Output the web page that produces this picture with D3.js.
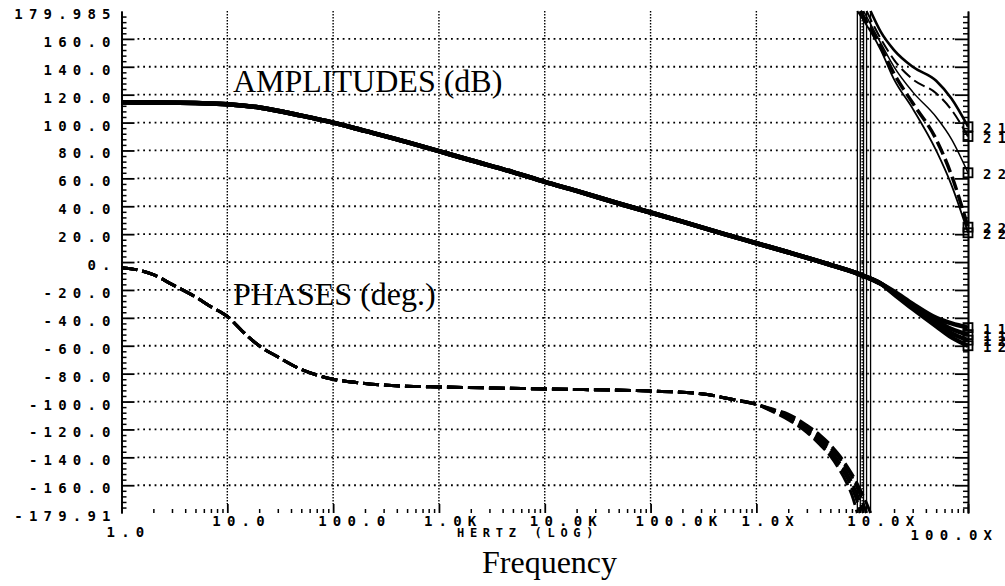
<!DOCTYPE html>
<html>
<head>
<meta charset="utf-8">
<script src="https://cdn.jsdelivr.net/npm/d3@7"></script>
<style>
  body { margin: 0; background: #fff; }
  svg { display: block; }
</style>
</head>
<body>
<svg id="chart" width="1005" height="586"></svg>
<script>
// ---- Amplitude traces (dB): shared response, four variants above 15 MHz ----
const ampFreq = [1, 2, 5, 10, 20, 50, 100, 200, 500, 1e3, 2e3, 5e3, 1e4, 2e4, 5e4,
                 1e5, 2e5, 5e5, 1e6, 2e6, 5e6, 1e7, 1.5e7];
const ampBase = [114.5, 114.4, 114, 113.2, 110.8, 105, 100, 94, 86, 79.5, 73, 64.5, 57.5, 51, 42,
                 35.5, 29, 20, 13.5, 7, -2, -9.5, -15.5];
const ampTailFreq = [2e7, 3e7, 5e7, 7e7, 1e8];
const ampTails = [
  [-21, -30, -40, -44, -47],
  [-22, -31.5, -42, -48, -52],
  [-22.5, -32.5, -44, -51, -56],
  [-23, -33.5, -46, -54, -60]
];
const ampIds = ["11", "11", "12", "12"];

// ---- Phase traces (deg): shared low-frequency part ----
const phaseFreq = [1, 1.5, 2, 3, 5, 7, 10, 15, 20, 30, 50, 70, 100, 200, 500, 1e3,
                   1e4, 1e5, 3e5, 6e5, 1e6];
const phaseDeg = [-4, -6, -9, -16, -25, -32, -39, -52, -60, -68, -77, -81, -84, -87, -89, -89.5,
                  -91, -92.5, -94.4, -98.6, -102];
// per-trace descent towards -180 (null = beyond that trace's wrap)
const phaseTailFreq = [1.5e6, 2e6, 3e6, 4e6, 5e6, 6e6, 7e6, 8e6, 9e6, 1e7, 1.1e7];
const phaseTails = [
  [-106, -109, -117, -124, -131, -138, -145, -152, -159, -166, -173],
  [-106.5, -110, -118, -126, -133, -140, -147, -154, -162, -171, null],
  [-107, -111, -120, -128, -135, -143, -150, -158, -167, -177, null],
  [-107.5, -112, -121, -129.5, -137, -145, -153, -162, -172, null, null],
  [-108, -113, -122, -131, -139, -148, -157, -167, null, null, null]
];
// frequency where each trace wraps from -180 to +180
const wrapFreq = [1.2e7, 1.1e7, 1.03e7, 9.6e6, 9.0e6];
// after the wrap
const phasePostFreq = [1.5e7, 2e7, 3e7, 5e7, 7e7, 1e8];
const phasePost = [
  [165, 152, 140, 130, 117, 97],
  [160, 145, 131, 121, 109, 90],
  [157, 140, 122, 104, 88, 64],
  [154, 135, 114, 88, 62, 25],
  [152, 131, 110, 80, 55, 21]
];
const phaseIds = ["21", "21", "22", "22", "22"];

// ---- Axis ticks and labels ----
const yLabelVals = [179.985, 160, 140, 120, 100, 80, 60, 40, 20, 0, -20, -40, -60, -80,
                    -100, -120, -140, -160, -179.91];
const yLabels = ["179.985", "160.0", "140.0", "120.0", "100.0", "80.0", "60.0", "40.0", "20.0",
                 "0.", "-20.0", "-40.0", "-60.0", "-80.0", "-100.0", "-120.0", "-140.0",
                 "-160.0", "-179.91"];
const xDecades = [1, 10, 100, 1e3, 1e4, 1e5, 1e6, 1e7, 1e8];
const xLabels = ["1.0", "10.0", "100.0", "1.0K", "10.0K", "100.0K", "1.0X", "10.0X", "100.0X"];
const xTitle = "HERTZ (LOG)";

const svg = d3.select("#chart");
const x = d3.scaleLog().domain([1, 1e8]).range([121.5, 968]);
const y = d3.scaleLinear().domain([-179.91, 179.985]).range([513, 11]);

const plotFont = "'DejaVu Sans Mono', monospace";
const serif = "'Liberation Serif', 'DejaVu Serif', serif";
const LS = 6.2;

const yMajor = d3.range(-160, 161, 20);
const yMinor = d3.range(-176, 177, 4).filter(v => v % 20 !== 0);
const xMinor = [];
xDecades.slice(0, -1).forEach(d => { for (let k = 2; k <= 9; k++) xMinor.push(d * k); });

// ---- grid ----
const grid = svg.append("g");
grid.selectAll("line.h").data(yMajor).join("line").attr("class", "h")
  .attr("x1", x(1) + 16).attr("x2", x(1e8) - 12)
  .attr("y1", d => y(d)).attr("y2", d => y(d))
  .attr("stroke", "#000").attr("stroke-width", 1.8).attr("stroke-dasharray", "1.8,3.9");
grid.selectAll("line.v").data(xDecades.slice(1, -1)).join("line").attr("class", "v")
  .attr("x1", d => x(d)).attr("x2", d => x(d))
  .attr("y1", y(179.985)).attr("y2", y(-179.91) - 9)
  .attr("stroke", "#000").attr("stroke-width", 1.4).attr("stroke-dasharray", "1.4,1.6");

// ---- axes ----
function styleAxis(g, w) {
  g.selectAll("path.domain").attr("stroke", "#000").attr("stroke-width", w);
  g.selectAll(".tick line").attr("stroke", "#000").attr("stroke-width", w);
}
const leftG = svg.append("g").attr("transform", `translate(${x(1)},0)`);
leftG.append("g").call(d3.axisRight(y).tickValues(yMinor).tickSize(5).tickSizeOuter(0).tickFormat(""))
  .call(g => styleAxis(g, 1.5));
leftG.append("g").call(d3.axisRight(y).tickValues(yMajor).tickSize(13).tickSizeOuter(0).tickFormat(""))
  .call(g => styleAxis(g, 1.8));

const rightG = svg.append("g").attr("transform", `translate(${x(1e8)},0)`);
rightG.append("g").call(d3.axisLeft(y).tickValues(yMinor).tickSize(5).tickSizeOuter(0).tickFormat(""))
  .call(g => styleAxis(g, 1.5));
rightG.append("g").call(d3.axisLeft(y).tickValues(yMajor).tickSize(13).tickSizeOuter(0).tickFormat(""))
  .call(g => styleAxis(g, 1.8));

const bottomG = svg.append("g").attr("transform", `translate(0,${y(-179.91)})`);
bottomG.append("g").call(d3.axisTop(x).tickValues(xMinor).tickSize(4).tickSizeOuter(0).tickFormat(""))
  .call(g => { styleAxis(g, 1.5); g.select("path.domain").remove(); });
bottomG.append("g").call(d3.axisTop(x).tickValues(xDecades.slice(1)).tickSize(9).tickSizeOuter(0).tickFormat(""))
  .call(g => { styleAxis(g, 1.8); g.select("path.domain").remove(); });

// y tick labels
svg.append("g").selectAll("text").data(yLabelVals).join("text")
  .attr("x", 110.5 + LS).attr("y", d => y(d) + 3)
  .attr("text-anchor", "end").attr("dominant-baseline", "central")
  .attr("font-family", plotFont).attr("font-weight", "bold").attr("font-size", 14)
  .attr("letter-spacing", LS)
  .text((d, i) => yLabels[i]);

// x tick labels: first and last sit on a lower row
const last = xDecades.length - 1;
svg.append("g").selectAll("text").data(xDecades).join("text")
  .attr("x", (d, i) => i === last ? 992 + LS : x(d) - 15)
  .attr("y", (d, i) => (i === 0 ? 532 : i === last ? 535 : 521))
  .attr("text-anchor", (d, i) => i === last ? "end" : "start")
  .attr("dominant-baseline", "central")
  .attr("font-family", plotFont).attr("font-weight", "bold").attr("font-size", 14)
  .attr("letter-spacing", LS)
  .text((d, i) => xLabels[i]);

svg.append("text").attr("x", 457).attr("y", 533)
  .attr("dominant-baseline", "central")
  .attr("font-family", plotFont).attr("font-weight", "bold").attr("font-size", 12)
  .attr("letter-spacing", 5.7)
  .text(xTitle);

// ---- curves ----
const line = d3.line().x(d => x(d[0])).y(d => y(d[1])).curve(d3.curveMonotoneX);
const curves = svg.append("g").attr("fill", "none").attr("stroke", "#000")
  .attr("stroke-linejoin", "round");

// amplitudes
ampTails.forEach(tail => {
  const pts = ampFreq.map((f, i) => [f, ampBase[i]])
    .concat(ampTailFreq.map((f, i) => [f, tail[i]]));
  curves.append("path").attr("d", line(pts)).attr("stroke-width", 4.5);
});

// phases
const postStyles = [
  { w: 2.6, dash: null },
  { w: 2.0, dash: "12,5" },
  { w: 1.5, dash: null },
  { w: 3.5, dash: "14,5" },
  { w: 1.8, dash: null }
];
phaseTails.forEach((tail, s) => {
  const fw = wrapFreq[s];
  const pre = phaseFreq.map((f, i) => [f, phaseDeg[i]])
    .concat(phaseTailFreq.map((f, i) => [f, tail[i]]).filter(p => p[1] !== null && p[0] < fw))
    .concat([[fw, -179.91]]);
  curves.append("path").attr("d", line(pre))
    .attr("stroke-width", 3).attr("stroke-dasharray", "16,5");
  // wrap from -180 to +180
  curves.append("line")
    .attr("x1", x(fw)).attr("x2", x(fw))
    .attr("y1", y(-179.91)).attr("y2", y(179.985))
    .attr("stroke-width", 1.3);
  const post = [[fw, 179.985]].concat(phasePostFreq.map((f, i) => [f, phasePost[s][i]]));
  const p = curves.append("path").attr("d", line(post)).attr("stroke-width", postStyles[s].w);
  if (postStyles[s].dash) p.attr("stroke-dasharray", postStyles[s].dash);
});

// ---- end markers and trace ids ----
const ends = phasePost.map((v, i) => ({ v: v[v.length - 1], id: phaseIds[i] }))
  .concat(ampTails.map((v, i) => ({ v: v[v.length - 1], id: ampIds[i] })));
const mk = svg.append("g");
mk.selectAll("rect").data(ends).join("rect")
  .attr("x", x(1e8) - 4.5).attr("y", d => y(d.v) - 4.5)
  .attr("width", 9).attr("height", 9)
  .attr("fill", "none").attr("stroke", "#000").attr("stroke-width", 1.8);
mk.selectAll("text").data(ends).join("text")
  .attr("x", 983).attr("y", d => y(d.v) + 1)
  .attr("dominant-baseline", "central")
  .attr("font-family", plotFont).attr("font-weight", "bold").attr("font-size", 14)
  .attr("letter-spacing", LS)
  .text(d => d.id);

// ---- annotations ----
svg.append("text").attr("x", 233).attr("y", 92)
  .attr("font-family", serif).attr("font-size", 32).text("AMPLITUDES (dB)");
svg.append("text").attr("x", 233).attr("y", 305)
  .attr("font-family", serif).attr("font-size", 32).text("PHASES (deg.)");
svg.append("text").attr("x", 482).attr("y", 573)
  .attr("font-family", serif).attr("font-size", 32).text("Frequency");
</script>
</body>
</html>
